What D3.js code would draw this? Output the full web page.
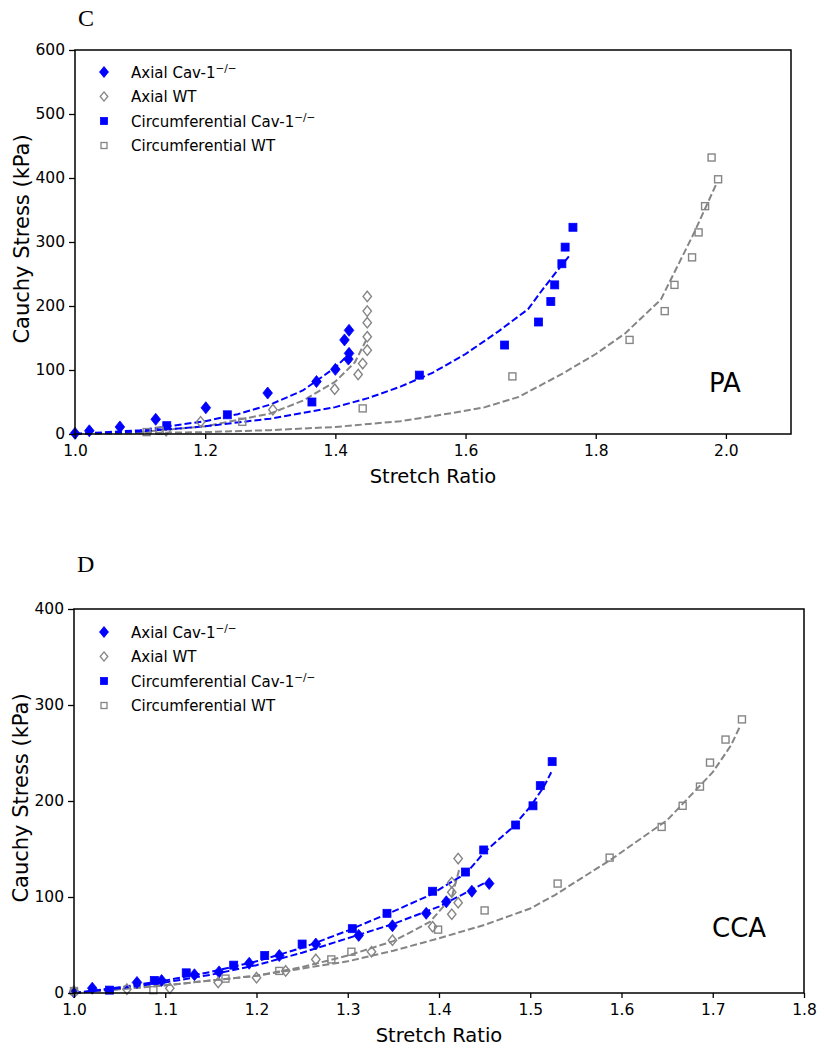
<!DOCTYPE html>
<html>
<head>
<meta charset="utf-8">
<script src="https://cdn.jsdelivr.net/npm/d3@7"></script>
<style>
  html, body { margin: 0; padding: 0; background: #fff; }
  svg { display: block; }
  text { font-family: "DejaVu Sans", sans-serif; }
</style>
</head>
<body>
<svg id="chart" width="824" height="1050"></svg>
<script>
// ---------- Panel C (PA) data ----------
const paAxialCavX = [1.0, 1.022, 1.069, 1.124, 1.201, 1.296, 1.371, 1.400, 1.414, 1.421, 1.421, 1.420];
const paAxialCavY = [1, 5, 11, 23, 41, 64, 82, 101, 147, 162, 126, 117];
const paAxialWTX = [1.14, 1.193, 1.304, 1.399, 1.435, 1.442, 1.449, 1.449, 1.449, 1.449, 1.449];
const paAxialWTY = [5, 19, 38, 70, 93, 110, 131, 152, 174, 192, 215];
const paCircCavX = [1.141, 1.234, 1.364, 1.529, 1.660, 1.712, 1.731, 1.737, 1.748, 1.753, 1.765];
const paCircCavY = [13, 30, 50, 92, 139, 175, 207, 233, 266, 292, 323];
const paCircWTX = [1.11, 1.13, 1.257, 1.442, 1.672, 1.852, 1.906, 1.921, 1.948, 1.958, 1.968, 1.988, 1.978];
const paCircWTY = [3, 5, 19, 40, 90, 147, 192, 233, 276, 315, 356, 398, 432];
// fitted (dashed) curves
const paAxialCavFitX = [1.0, 1.1, 1.2, 1.25, 1.3, 1.35, 1.4, 1.422];
const paAxialCavFitY = [0, 6, 20, 31, 46, 68, 104, 126];
const paAxialWTFitX = [1.1, 1.2, 1.3, 1.35, 1.4, 1.43, 1.447];
const paAxialWTFitY = [3, 12, 32, 52, 82, 112, 146];
const paCircCavFitX = [1.0, 1.1, 1.2, 1.3, 1.4, 1.45, 1.5, 1.55, 1.6, 1.65, 1.696, 1.72, 1.74, 1.759];
const paCircCavFitY = [0, 4, 12, 24, 42, 56, 74, 96, 125, 160, 195, 228, 254, 278];
const paCircWTFitX = [1.0, 1.2, 1.3, 1.4, 1.5, 1.575, 1.63, 1.682, 1.75, 1.8, 1.845, 1.9, 1.95, 1.985];
const paCircWTFitY = [0, 3, 6, 11, 20, 32, 42, 58, 95, 125, 157, 210, 312, 390];

// ---------- Panel D (CCA) data ----------
const ccaAxialCavX = [1.0, 1.020, 1.069, 1.096, 1.132, 1.159, 1.192, 1.225, 1.265, 1.312, 1.349, 1.386, 1.408, 1.436, 1.455];
const ccaAxialCavY = [1, 5, 11, 13, 19, 22, 31, 39, 51, 60, 70, 83, 95, 106, 114];
const ccaAxialWTX = [1.0, 1.058, 1.105, 1.158, 1.200, 1.232, 1.265, 1.326, 1.349, 1.393, 1.414, 1.421, 1.414, 1.414, 1.421];
const ccaAxialWTY = [2, 4, 5, 11, 16, 23, 35, 43, 55, 69, 82, 94, 105, 115, 140];
const ccaCircCavX = [1.039, 1.088, 1.123, 1.175, 1.209, 1.250, 1.305, 1.343, 1.393, 1.429, 1.449, 1.484, 1.503, 1.511, 1.524];
const ccaCircCavY = [3, 13, 21, 29, 39, 51, 67, 83, 106, 126, 149, 175, 195, 216, 241];
const ccaCircWTX = [1.0, 1.087, 1.166, 1.225, 1.282, 1.304, 1.399, 1.450, 1.530, 1.587, 1.644, 1.667, 1.686, 1.697, 1.714, 1.732];
const ccaCircWTY = [2, 3, 15, 23, 35, 43, 66, 86, 114, 141, 173, 195, 215, 240, 264, 285];
const ccaAxialCavFitX = [1.0, 1.05, 1.1, 1.15, 1.2, 1.25, 1.3, 1.35, 1.4, 1.455];
const ccaAxialCavFitY = [0, 5, 11, 19, 29, 42, 57, 72, 90, 117];
const ccaAxialWTFitX = [1.0, 1.1, 1.2, 1.25, 1.3, 1.35, 1.39, 1.414, 1.422];
const ccaAxialWTFitY = [0, 8, 18, 27, 39, 54, 74, 100, 128];
const ccaCircCavFitX = [1.0, 1.05, 1.1, 1.15, 1.2, 1.25, 1.3, 1.35, 1.39, 1.43, 1.45, 1.48, 1.50, 1.515, 1.523];
const ccaCircCavFitY = [0, 6, 13, 22, 33, 47, 65, 85, 102, 125, 147, 172, 194, 215, 230];
const ccaCircWTFitX = [1.0, 1.1, 1.2, 1.3, 1.35, 1.4, 1.45, 1.5, 1.527, 1.59, 1.65, 1.7, 1.72, 1.73];
const ccaCircWTFitY = [0, 8, 18, 33, 44, 57, 71, 88, 102, 140, 180, 230, 258, 278];

// ---------- axis ticks & labels ----------
const paXTicks = [1.0, 1.2, 1.4, 1.6, 1.8, 2.0];
const paYTicks = [0, 100, 200, 300, 400, 500, 600];
const ccaXTicks = [1.0, 1.1, 1.2, 1.3, 1.4, 1.5, 1.6, 1.7, 1.8];
const ccaYTicks = [0, 100, 200, 300, 400];
const legendLabels = ["Axial Cav-1", "Axial WT", "Circumferential Cav-1", "Circumferential WT"];
const legendSup = ["\u2212/\u2212", "", "\u2212/\u2212", ""];
const xTitle = "Stretch Ratio";
const yTitle = "Cauchy Stress (kPa)";

const BLUE = "#0000ff";
const GRAY = "#858585";

const svg = d3.select("#chart");

function zip(xs, ys) { return xs.map((x, i) => [x, ys[i]]); }

function drawPanel(o) {
  const g = svg.append("g");
  const x = d3.scaleLinear().domain(o.xDomain).range([o.left, o.right]);
  const y = d3.scaleLinear().domain(o.yDomain).range([o.bottom, o.top]);

  // panel letter
  g.append("text").attr("x", o.letterX).attr("y", o.letterY)
    .style("font-family", "'Liberation Serif', serif").style("font-size", "24px")
    .text(o.letter);

  const plot = g.append("g");
  const line = d3.line().x(d => x(d[0])).y(d => y(d[1]));

  // fitted dashed lines
  o.fits.forEach(f => {
    plot.append("path").datum(zip(f.xs, f.ys)).attr("d", line)
      .attr("fill", "none").attr("stroke", f.color).attr("stroke-width", 2)
      .attr("stroke-dasharray", "7,3");
  });

  // markers
  const diamond = (s, w) => `M0,${-s}L${w},0L0,${s}L${-w},0Z`;
  o.series.forEach(sr => {
    const pts = zip(sr.xs, sr.ys);
    const sel = plot.selectAll(null).data(pts).enter();
    if (sr.shape === "diamond") {
      sel.append("path")
        .attr("transform", d => `translate(${x(d[0])},${y(d[1])})`)
        .attr("d", sr.filled ? diamond(6, 4.8) : diamond(5.2, 4.2))
        .attr("fill", sr.filled ? BLUE : "none")
        .attr("stroke", sr.filled ? BLUE : GRAY)
        .attr("stroke-width", sr.filled ? 0.8 : 1.4);
    } else {
      const s = sr.filled ? 8 : 7;
      sel.append("rect")
        .attr("x", d => x(d[0]) - s / 2).attr("y", d => y(d[1]) - s / 2)
        .attr("width", s).attr("height", s)
        .attr("fill", sr.filled ? BLUE : "none")
        .attr("stroke", sr.filled ? BLUE : GRAY)
        .attr("stroke-width", sr.filled ? 0.8 : 1.4);
    }
  });

  // axes
  const xAxis = d3.axisBottom(x).tickValues(o.xTicks).tickFormat(d3.format(".1f")).tickSizeOuter(0).tickSize(5).tickPadding(6);
  const yAxis = d3.axisLeft(y).tickValues(o.yTicks).tickFormat(d3.format("d")).tickSizeOuter(0).tickSize(6).tickPadding(4);
  const gx = g.append("g").attr("transform", `translate(0,${o.bottom})`).call(xAxis);
  const gy = g.append("g").attr("transform", `translate(${o.left},0)`).call(yAxis);
  [gx, gy].forEach(a => {
    a.selectAll("text").style("font-family", "'DejaVu Sans', sans-serif").style("font-size", "15.5px").attr("fill", "#000");
    a.selectAll("line").attr("stroke", "#000").attr("stroke-width", 1.3);
    a.select(".domain").remove();
  });
  // frame (spines)
  g.append("rect").attr("x", o.left).attr("y", o.top)
    .attr("width", o.right - o.left).attr("height", o.bottom - o.top)
    .attr("fill", "none").attr("stroke", "#000").attr("stroke-width", 1.5);

  // axis titles
  g.append("text").attr("x", (o.left + o.right) / 2).attr("y", o.bottom + 49)
    .attr("text-anchor", "middle").style("font-size", "19.5px").text(xTitle);
  g.append("text").attr("transform", `translate(${o.left - 46},${(o.top + o.bottom) / 2 - 3}) rotate(-90)`)
    .attr("text-anchor", "middle").style("font-size", "21px").text(yTitle);

  // region label
  g.append("text").attr("x", o.tagX).attr("y", o.tagY).style("font-size", "26px").text(o.tag);

  // legend
  const shapes = [{shape: "diamond", filled: true}, {shape: "diamond", filled: false}, {shape: "square", filled: true}, {shape: "square", filled: false}];
  legendLabels.forEach((lab, i) => {
    const ly = o.legendY + i * 24.5;
    const sh = shapes[i];
    if (sh.shape === "diamond") {
      g.append("path").attr("transform", `translate(${o.legendX},${ly})`)
        .attr("d", sh.filled ? diamond(5.5, 4.5) : diamond(4.6, 3.8))
        .attr("fill", sh.filled ? BLUE : "none").attr("stroke", sh.filled ? BLUE : GRAY)
        .attr("stroke-width", sh.filled ? 0.8 : 1.3);
    } else {
      const s = sh.filled ? 7 : 6;
      g.append("rect").attr("x", o.legendX - s / 2).attr("y", ly - s / 2).attr("width", s).attr("height", s)
        .attr("fill", sh.filled ? BLUE : "none").attr("stroke", sh.filled ? BLUE : GRAY)
        .attr("stroke-width", sh.filled ? 0.8 : 1.3);
    }
    const t = g.append("text").attr("x", o.legendX + 27).attr("y", ly + 5.5).style("font-size", "15px").text(lab);
    if (legendSup[i]) {
      t.append("tspan").attr("dy", -6).style("font-size", "10.5px").text(legendSup[i]);
    }
  });
}

drawPanel({
  letter: "C", letterX: 78, letterY: 26,
  left: 75, right: 791, top: 50, bottom: 434,
  xDomain: [1.0, 2.1], yDomain: [0, 600],
  xTicks: paXTicks, yTicks: paYTicks,
  tag: "PA", tagX: 709, tagY: 392,
  legendX: 104, legendY: 72,
  fits: [
    {xs: paCircWTFitX, ys: paCircWTFitY, color: GRAY},
    {xs: paAxialWTFitX, ys: paAxialWTFitY, color: GRAY},
    {xs: paCircCavFitX, ys: paCircCavFitY, color: BLUE},
    {xs: paAxialCavFitX, ys: paAxialCavFitY, color: BLUE}
  ],
  series: [
    {xs: paAxialCavX, ys: paAxialCavY, shape: "diamond", filled: true},
    {xs: paAxialWTX, ys: paAxialWTY, shape: "diamond", filled: false},
    {xs: paCircCavX, ys: paCircCavY, shape: "square", filled: true},
    {xs: paCircWTX, ys: paCircWTY, shape: "square", filled: false}
  ]
});

drawPanel({
  letter: "D", letterX: 77, letterY: 572,
  left: 74, right: 804, top: 609, bottom: 993,
  xDomain: [1.0, 1.8], yDomain: [0, 400],
  xTicks: ccaXTicks, yTicks: ccaYTicks,
  tag: "CCA", tagX: 712, tagY: 937,
  legendX: 104, legendY: 632,
  fits: [
    {xs: ccaCircWTFitX, ys: ccaCircWTFitY, color: GRAY},
    {xs: ccaAxialWTFitX, ys: ccaAxialWTFitY, color: GRAY},
    {xs: ccaCircCavFitX, ys: ccaCircCavFitY, color: BLUE},
    {xs: ccaAxialCavFitX, ys: ccaAxialCavFitY, color: BLUE}
  ],
  series: [
    {xs: ccaAxialCavX, ys: ccaAxialCavY, shape: "diamond", filled: true},
    {xs: ccaAxialWTX, ys: ccaAxialWTY, shape: "diamond", filled: false},
    {xs: ccaCircCavX, ys: ccaCircCavY, shape: "square", filled: true},
    {xs: ccaCircWTX, ys: ccaCircWTY, shape: "square", filled: false}
  ]
});
</script>
</body>
</html>
